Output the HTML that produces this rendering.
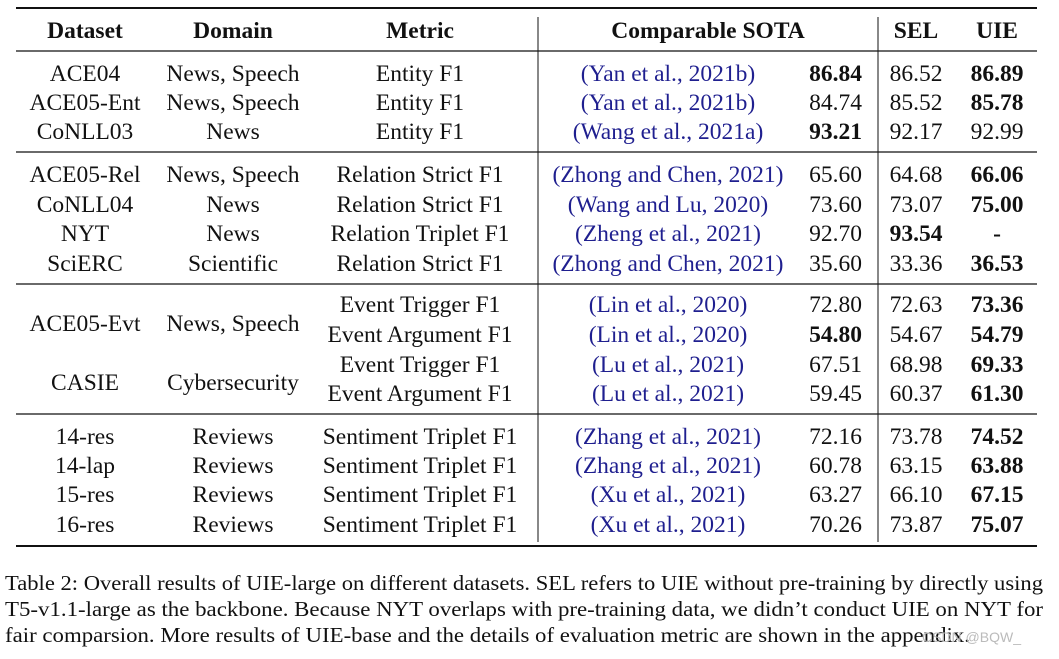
<!DOCTYPE html>
<html><head><meta charset="utf-8"><style>
body{margin:0;background:#fff;width:1059px;height:654px;overflow:hidden}
svg text{font-family:"Liberation Serif","Times New Roman",serif;font-size:23.5px;fill:#111}
.b{font-weight:bold}
.c{fill:#1f1f8f}
.cap{font-size:21.5px}
</style></head><body>
<svg width="1059" height="654">
<g stroke="#111">
<line x1="16" x2="1037" y1="8" y2="8" stroke-width="2"/>
<line x1="16" x2="1037" y1="51" y2="51" stroke-width="1.3"/>
<line x1="16" x2="1037" y1="152" y2="152" stroke-width="1.3"/>
<line x1="16" x2="1037" y1="284" y2="284" stroke-width="1.3"/>
<line x1="16" x2="1037" y1="414" y2="414" stroke-width="1.3"/>
<line x1="16" x2="1037" y1="546" y2="546" stroke-width="2"/>
<line x1="538" x2="538" y1="17" y2="542" stroke-width="1"/>
<line x1="878" x2="878" y1="17" y2="542" stroke-width="1"/>
</g>
<g id="t"></g>
<g>
<text class="cap" x="5" y="590" textLength="1038" lengthAdjust="spacingAndGlyphs">Table 2: Overall results of UIE-large on different datasets. SEL refers to UIE without pre-training by directly using</text>
<text class="cap" x="5" y="616" textLength="1038" lengthAdjust="spacingAndGlyphs">T5-v1.1-large as the backbone. Because NYT overlaps with pre-training data, we didn’t conduct UIE on NYT for</text>
<text class="cap" x="5" y="642" textLength="965" lengthAdjust="spacingAndGlyphs">fair comparsion. More results of UIE-base and the details of evaluation metric are shown in the appendix.</text>
<text x="922" y="642" style="font-family:'Liberation Sans',sans-serif;font-size:14px;fill:#bbb">CSDN @BQW_</text>
</g>
</svg>
<script>
const headers=["Dataset","Domain","Metric","Comparable SOTA","SEL","UIE"];
const rowY=[73,102,131,174,204,233,263,304,334,364,393,436,465,494,524];
const datasets=["ACE04","ACE05-Ent","CoNLL03","ACE05-Rel","CoNLL04","NYT","SciERC","","","","","14-res","14-lap","15-res","16-res"];
const domains=["News, Speech","News, Speech","News","News, Speech","News","News","Scientific","","","","","Reviews","Reviews","Reviews","Reviews"];
const metrics=["Entity F1","Entity F1","Entity F1","Relation Strict F1","Relation Strict F1","Relation Triplet F1","Relation Strict F1","Event Trigger F1","Event Argument F1","Event Trigger F1","Event Argument F1","Sentiment Triplet F1","Sentiment Triplet F1","Sentiment Triplet F1","Sentiment Triplet F1"];
const cites=["(Yan et al., 2021b)","(Yan et al., 2021b)","(Wang et al., 2021a)","(Zhong and Chen, 2021)","(Wang and Lu, 2020)","(Zheng et al., 2021)","(Zhong and Chen, 2021)","(Lin et al., 2020)","(Lin et al., 2020)","(Lu et al., 2021)","(Lu et al., 2021)","(Zhang et al., 2021)","(Zhang et al., 2021)","(Xu et al., 2021)","(Xu et al., 2021)"];
const sota=["86.84","84.74","93.21","65.60","73.60","92.70","35.60","72.80","54.80","67.51","59.45","72.16","60.78","63.27","70.26"];
const sel=["86.52","85.52","92.17","64.68","73.07","93.54","33.36","72.63","54.67","68.98","60.37","73.78","63.15","66.10","73.87"];
const uie=["86.89","85.78","92.99","66.06","75.00","-","36.53","73.36","54.79","69.33","61.30","74.52","63.88","67.15","75.07"];
const sotaBold=[1,0,1,0,0,0,0,0,1,0,0,0,0,0,0];
const selBold=[0,0,0,0,0,1,0,0,0,0,0,0,0,0,0];
const uieBold=[1,1,0,1,1,1,1,1,1,1,1,1,1,1,1];
const mergedDatasets=["ACE05-Evt","CASIE"];
const mergedDomains=["News, Speech","Cybersecurity"];
const mergedY=[323,382];
const g=document.getElementById('t');
const NS="http://www.w3.org/2000/svg";
function T(x,y,s,anchor,cls,name){
  const e=document.createElementNS(NS,'text');
  e.setAttribute('x',x);e.setAttribute('y',y);e.setAttribute('text-anchor',anchor);
  if(cls)e.setAttribute('class',cls);
  e.textContent=s;
  
  
  g.appendChild(e);return e;
}
const hx=[85,233,420,708,916,997];
headers.forEach((h,i)=>T(hx[i],38,h,'middle','b','header-'+h.toLowerCase().replace(/ /g,'-')));
rowY.forEach((y,i)=>{
  const b=y+8;
  if(datasets[i])T(85,b,datasets[i],'middle','','dataset-cell');
  if(domains[i])T(233,b,domains[i],'middle','','domain-cell');
  T(420,b,metrics[i],'middle','','metric-cell');
  T(668,b,cites[i],'middle','c','citation-link');
  T(862,b,sota[i],'end',sotaBold[i]?'b':'','sota-value');
  T(916,b,sel[i],'middle',selBold[i]?'b':'','sel-value');
  T(997,b,uie[i],'middle',uieBold[i]?'b':'','uie-value');
});
mergedY.forEach((y,i)=>{
  T(85,y+8,mergedDatasets[i],'middle','','dataset-cell');
  T(233,y+8,mergedDomains[i],'middle','','domain-cell');
});
</script>
</body></html>
